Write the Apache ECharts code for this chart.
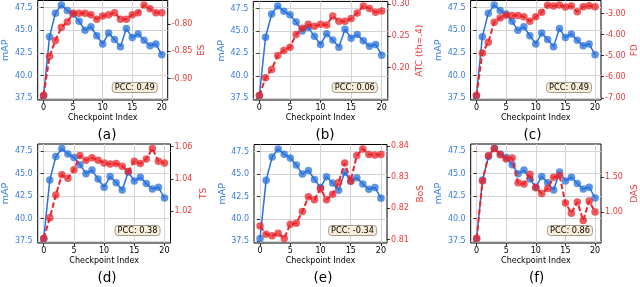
<!DOCTYPE html>
<html>
<head>
<meta charset="utf-8">
<script src="https://cdn.jsdelivr.net/npm/echarts@6/dist/echarts.min.js"></script>
<style>html,body{margin:0;padding:0;background:#fff}#c{width:640px;height:287px}</style>
</head>
<body>
<div id="c"></div>
<script>
// ---- data ----
const checkpoints = [0,1,2,3,4,5,6,7,8,9,10,11,12,13,14,15,16,17,18,19,20];
const xTicks = [0,5,10,15,20];
const mAP = [37.8,44.3,46.9,47.8,47.2,46.8,46.0,45.0,45.4,44.4,43.5,44.7,44.0,43.2,45.2,44.2,44.6,43.9,43.3,43.5,42.3];
const mapTicks = [37.5,40.0,42.5,45.0,47.5];

const ES  = [-0.931,-0.859,-0.830,-0.806,-0.796,-0.780,-0.780,-0.780,-0.783,-0.791,-0.785,-0.783,-0.779,-0.791,-0.791,-0.783,-0.779,-0.765,-0.772,-0.779,-0.779];
const ATC = [0.156,0.184,0.197,0.219,0.227,0.232,0.252,0.262,0.268,0.265,0.268,0.267,0.281,0.273,0.273,0.277,0.286,0.297,0.293,0.287,0.289];
const FD  = [-6.89,-4.87,-4.37,-3.42,-3.21,-3.08,-3.10,-3.10,-3.16,-3.37,-3.16,-2.94,-2.61,-2.65,-2.60,-2.69,-2.65,-2.92,-2.68,-2.63,-2.68];
const TS  = [1.0029,1.0158,1.0299,1.0425,1.0404,1.0457,1.0545,1.0516,1.0531,1.0516,1.0499,1.0493,1.0495,1.0478,1.0446,1.0509,1.0495,1.0524,1.0589,1.0509,1.0499];
const BoS = [0.8143,0.8117,0.8112,0.8120,0.8103,0.8149,0.8152,0.8190,0.8237,0.8228,0.8263,0.8228,0.8245,0.8283,0.8346,0.8288,0.8370,0.8391,0.8373,0.8372,0.8373];
const DAS = [0.621,1.447,1.811,1.913,1.825,1.762,1.777,1.422,1.403,1.544,1.350,1.267,1.340,1.500,1.524,1.131,0.985,1.146,0.879,1.160,1.000];

const metricNames = ['ES','ATC (th=.4)','FD','TS','BoS','DAS'];
const metricValues = [ES, ATC, FD, TS, BoS, DAS];
const metricTicks = [
  [-0.90,-0.85,-0.80],
  [0.20,0.25,0.30],
  [-7,-6,-5,-4,-3],
  [1.00,1.02,1.04,1.06],
  [0.81,0.82,0.83,0.84],
  [1.00,1.50]
];
const pccTexts = ['PCC: 0.49','PCC: 0.06','PCC: 0.49','PCC: 0.38','PCC: -0.34','PCC: 0.86'];
const panelLabels = ['(a)','(b)','(c)','(d)','(e)','(f)'];

// ---- layout ----
const grids = [
  {left:35.7, top:0.5, width:132, height:99.5},
  {left:253.3, top:0.5, width:134.5, height:99.5},
  {left:470.5, top:0.5, width:131.5, height:99.5},
  {left:36, top:144, width:134.5, height:99},
  {left:254, top:144.5, width:133, height:98.5},
  {left:470.7, top:144, width:132.3, height:99}
];
const labelCenters = [[107,128],[325,128],[532.5,128],[107,271.5],[323,271.5],[536.7,271.5]];

const BLUE = '#2770db';
const BLUE_TXT = '#3a7de0';
const RED = '#e8262b';
const RED_TXT = '#ef3a3a';
const FONT = 'DejaVu Sans';

const pad = (v) => {
  const r = v.max - v.min; return {min: v.min - 0.05*r, max: v.max + 0.05*r};
};

const option = {
  animation: false,
  grid: [], xAxis: [], yAxis: [], series: [], title: []
};

grids.forEach((g, i) => {
  option.grid.push({left:g.left, top:g.top, width:g.width, height:g.height,
    show:true, borderColor:'#000', borderWidth:1, backgroundColor:'transparent', containLabel:false});
  option.xAxis.push({
    type:'value', gridIndex:i,
    min: v => pad(v).min, max: v => pad(v).max,
    name:'Checkpoint Index', nameLocation:'middle', nameGap:13.5,
    nameTextStyle:{fontFamily:FONT, fontSize:8, color:'#000'},
    axisLine:{show:false},
    axisTick:{show:true, length:3, customValues:xTicks, lineStyle:{color:'#000', width:0.8}},
    axisLabel:{customValues:xTicks, fontFamily:FONT, fontSize:8, color:'#000', margin:4},
    splitLine:{show:true, lineStyle:{color:'#d4d4d4', width:1}}
  });
  option.yAxis.push({
    type:'value', gridIndex:i, position:'left',
    min: v => pad(v).min, max: v => pad(v).max,
    name:'mAP', nameLocation:'middle', nameGap:24, nameRotate:90,
    nameTextStyle:{fontFamily:FONT, fontSize:9.5, color:BLUE_TXT},
    axisLine:{show:false},
    axisTick:{show:true, length:3, customValues:mapTicks, lineStyle:{color:'#000', width:0.8}},
    axisLabel:{customValues:mapTicks, fontFamily:FONT, fontSize:8, color:BLUE_TXT, margin:5,
      formatter: v => v.toFixed(1)},
    splitLine:{show:true, lineStyle:{color:'#d4d4d4', width:1}}
  });
  option.yAxis.push({
    type:'value', gridIndex:i, position:'right',
    min: v => pad(v).min, max: v => pad(v).max,
    name:metricNames[i], nameLocation:'middle', nameGap:i===1?27:29, nameRotate:90,
    nameTextStyle:{fontFamily:FONT, fontSize:9, color:RED_TXT},
    axisLine:{show:false},
    axisTick:{show:true, length:3, customValues:metricTicks[i], lineStyle:{color:'#000', width:0.8}},
    axisLabel:{customValues:metricTicks[i], fontFamily:FONT, fontSize:8, color:RED_TXT, margin:4,
      formatter: v => v.toFixed(2)},
    splitLine:{show:false}
  });
  option.series.push({
    type:'line', xAxisIndex:i, yAxisIndex:2*i, z:2,
    data: checkpoints.map((c,k)=>[c, mAP[k]]),
    symbol:'circle', symbolSize:7.5,
    lineStyle:{color:BLUE, width:1.5},
    itemStyle:{color:BLUE, opacity:0.75}
  });
  option.series.push({
    type:'line', xAxisIndex:i, yAxisIndex:2*i+1, z:3,
    data: checkpoints.map((c,k)=>[c, metricValues[i][k]]),
    symbol:'circle', symbolSize:7.5,
    lineStyle:{color:RED, width:2, type:[5.5,2.5]},
    itemStyle:{color:RED, opacity:0.75}
  });
  // PCC box
  option.title.push({
    text:pccTexts[i],
    right: 640 - (g.left + g.width) + 10,
    top: g.top + g.height - 18,
    backgroundColor:'#faeed9', borderColor:'#a09c90', borderWidth:1, borderRadius:3,
    padding:[2,3,1,3],
    textStyle:{fontFamily:FONT, fontSize:8.2, fontWeight:'normal', color:'#000'}
  });
  // panel label
  option.title.push({
    text:panelLabels[i], left:labelCenters[i][0], top:labelCenters[i][1], textAlign:'center',
    padding:0,
    textStyle:{fontFamily:FONT, fontSize:13.5, fontWeight:'normal', color:'#000'}
  });
});

const chart = echarts.init(document.getElementById('c'), null, {renderer:'canvas'});
chart.setOption(option);
</script>
</body>
</html>
